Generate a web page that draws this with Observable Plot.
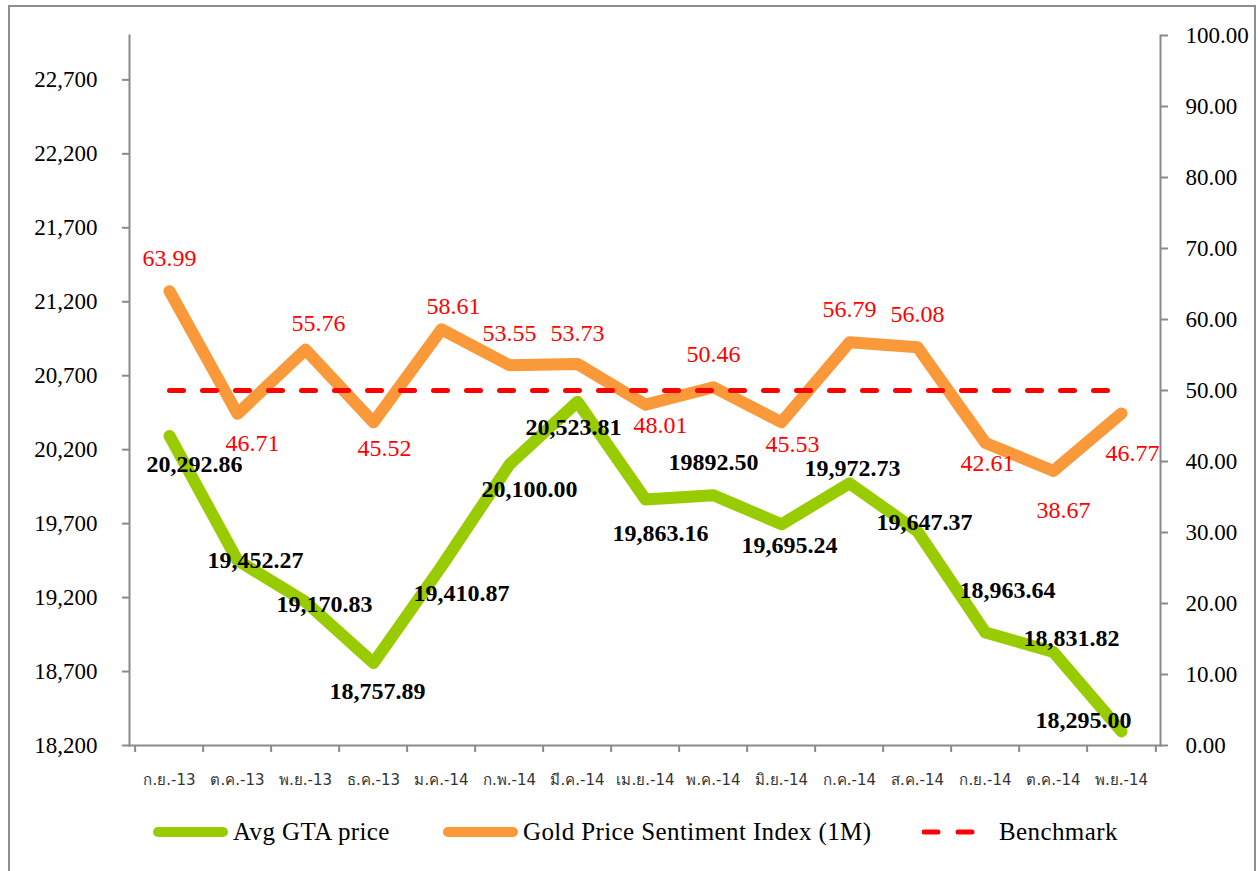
<!DOCTYPE html>
<html>
<head>
<meta charset="utf-8">
<script src="https://cdn.jsdelivr.net/npm/d3@7"></script>
<script src="https://cdn.jsdelivr.net/npm/@observablehq/plot@0.6"></script>
<style>
  html, body { margin: 0; padding: 0; background: #fff; }
  #frame { position: absolute; left: 8px; top: 5px; width: 1248px; height: 880px; border: 2px solid #8e8e8e; box-sizing: border-box; }
  #chart { position: absolute; left: 0; top: 0; width: 1258px; height: 795px; }
  #chart svg { position: absolute; left: 0; top: 0; }
  .lg { position: absolute; top: 815px; height: 34px; display: flex; align-items: center;
        font-family: 'Liberation Serif', 'Times New Roman', serif; font-size: 25px; letter-spacing: 0.4px; color: #000; white-space: nowrap; }
  .sw { width: 75px; height: 10px; border-radius: 5px; margin-right: 5px; }
</style>
</head>
<body>
<div id="frame"></div>
<div id="chart"></div>
<div class="lg" style="left:153px"><div class="sw" style="background:#99CC00"></div>Avg GTA price</div>
<div class="lg" style="left:443px"><div class="sw" style="background:#F9993A"></div>Gold Price Sentiment Index (1M)</div>
<div class="lg" style="left:922px"><svg width="77" height="10"><line x1="2" y1="5" x2="56" y2="5" stroke="#FF0000" stroke-width="5" stroke-linecap="round" stroke-dasharray="14,20"/></svg>Benchmark</div>
<script>
// ---------- data ----------
const months = ["ก.ย.-13","ต.ค.-13","พ.ย.-13","ธ.ค.-13","ม.ค.-14","ก.พ.-14","มี.ค.-14","เม.ย.-14","พ.ค.-14","มิ.ย.-14","ก.ค.-14","ส.ค.-14","ก.ย.-14","ต.ค.-14","พ.ย.-14"];
const gtaValues = [20292.86,19452.27,19170.83,18757.89,19410.87,20100.00,20523.81,19863.16,19892.50,19695.24,19972.73,19647.37,18963.64,18831.82,18295.00];
const gtaLabels = ["20,292.86","19,452.27","19,170.83","18,757.89","19,410.87","20,100.00","20,523.81","19,863.16","19892.50","19,695.24","19,972.73","19,647.37","18,963.64","18,831.82","18,295.00"];
const sentimentValues = [63.99,46.71,55.76,45.52,58.61,53.55,53.73,48.01,50.46,45.53,56.79,56.08,42.61,38.67,46.77];
const benchmarkValues = [50,50,50,50,50,50,50,50,50,50,50,50,50,50,50];
const leftTicks = [18200,18700,19200,19700,20200,20700,21200,21700,22200,22700];
const rightTicks = [0,10,20,30,40,50,60,70,80,90,100];

// ---------- label nudges (pixels) ----------
const gtaDx = [25,18,19,4,20,20,-4,15,0,8,3,7,22,18,-38];
const gtaDy = [28,0,2,28,27,25,26,34,-33,21,-15,-9,-42,-14,-11];
const senDx = [0,15,13,11,12,0,0,15,0,11,0,0,2,10,11];
const senDy = [-33,29,-26,26,-23,-32,-31,21,-33,22,-33,-33,20,39,40];

const gta = months.map((m, i) => ({month: m, v: gtaValues[i], label: gtaLabels[i]}));
const sen = months.map((m, i) => ({month: m, v: sentimentValues[i], label: sentimentValues[i].toFixed(2)}));
const bench = months.map((m, i) => ({month: m, v: benchmarkValues[i]}));

const W = 1258, H = 795, mL = 129, mR = 98, mT = 35, mB = 50;
const bw = (W - mL - mR) / months.length;
const serif = "'Liberation Serif','Times New Roman',serif";
const thai = "Tahoma,'DejaVu Sans','Noto Sans',sans-serif";
const axisGray = "#8a8a8a";

const common = {
  width: W, height: H, marginLeft: mL, marginRight: mR, marginTop: mT, marginBottom: mB,
  style: {background: "transparent", overflow: "visible", fontFamily: serif}
};

const p1 = Plot.plot({
  ...common,
  x: {type: "band", domain: months, padding: 0, label: null},
  y: {domain: [18200, 23000], label: null},
  marks: [
    Plot.frame({anchor: "left", stroke: axisGray, strokeWidth: 2}),
    Plot.frame({anchor: "bottom", stroke: axisGray, strokeWidth: 2}),
    Plot.axisY({ticks: leftTicks, tickSize: 7, tickPadding: 25, tickFormat: d3.format(","), stroke: axisGray, strokeWidth: 2, fill: "#000", fontSize: 23, fontFamily: serif}),
    Plot.axisX({tickSize: 0, tickPadding: 29, fill: "#333", fontSize: 15, fontFamily: thai}),
    Plot.axisX({tickSize: 7, tickFormat: () => "", stroke: axisGray, strokeWidth: 2, dx: -bw / 2}),
    Plot.axisX({ticks: [months[months.length - 1]], tickSize: 7, tickFormat: () => "", stroke: axisGray, strokeWidth: 2, dx: bw / 2}),
    Plot.line(gta, {x: "month", y: "v", stroke: "#99CC00", strokeWidth: 12, strokeLinecap: "round", strokeLinejoin: "round"}),
    ...gta.map((d, i) => Plot.text([d], {x: "month", y: "v", text: "label", dx: gtaDx[i], dy: gtaDy[i], fill: "#000", fontWeight: "bold", fontSize: 24, fontFamily: serif}))
  ]
});

const p2 = Plot.plot({
  ...common,
  x: {type: "band", domain: months, padding: 0, label: null, axis: null},
  y: {domain: [0, 100], label: null},
  marks: [
    Plot.frame({anchor: "right", stroke: axisGray, strokeWidth: 2}),
    Plot.axisY({anchor: "right", ticks: rightTicks, tickSize: 7, tickPadding: 18, tickFormat: d3.format(".2f"), stroke: axisGray, strokeWidth: 2, fill: "#000", fontSize: 23, fontFamily: serif}),
    Plot.line(sen, {x: "month", y: "v", stroke: "#F9993A", strokeWidth: 12, strokeLinecap: "round", strokeLinejoin: "round"}),
    Plot.line(bench, {x: "month", y: "v", stroke: "#FF0000", strokeWidth: 5, strokeDasharray: "14,19", strokeLinecap: "round"}),
    ...sen.map((d, i) => Plot.text([d], {x: "month", y: "v", text: "label", dx: senDx[i], dy: senDy[i], fill: "#FF0000", fontSize: 24, fontFamily: serif}))
  ]
});

const chart = document.getElementById("chart");
chart.appendChild(p1);
chart.appendChild(p2);
</script>
</body>
</html>
